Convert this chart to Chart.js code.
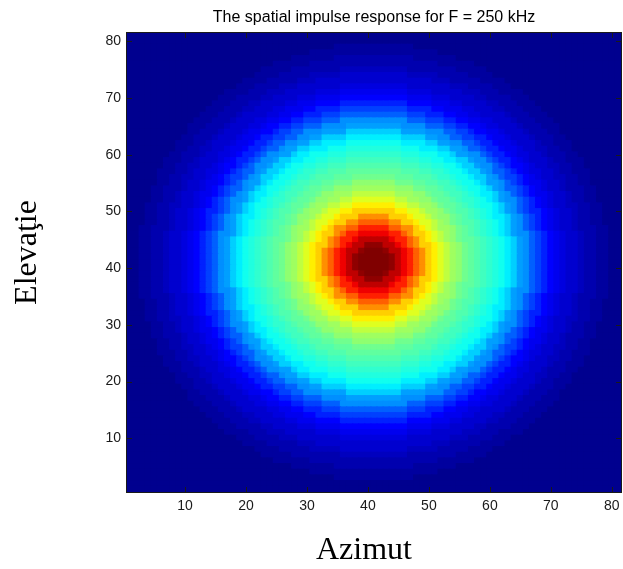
<!DOCTYPE html>
<html>
<head>
<meta charset="utf-8">
<title>Spatial impulse response</title>
<script src="https://cdn.jsdelivr.net/npm/chart.js@4/dist/chart.umd.min.js"></script>
<style>
  html, body { margin: 0; padding: 0; background: #fff; }
  canvas { display: block; }
</style>
</head>
<body>
<canvas id="impulse-map" width="623" height="569"></canvas>
<script>
"use strict";

// grid indices (81 x 81 cells, MATLAB style 1..81)
var gridSize = 81;
var centre = 41;

// normalised response read along the axes, by cell distance from the centre
var radialProfile = [
  1.00, 1.00, 0.99, 0.98, 0.93, 0.88, 0.83, 0.77, 0.72, 0.67,
  0.63, 0.59, 0.56, 0.53, 0.50, 0.48, 0.46, 0.45, 0.43, 0.42,
  0.40, 0.38, 0.35, 0.32, 0.28, 0.25, 0.21, 0.18, 0.15, 0.12,
  0.10, 0.085, 0.075, 0.065, 0.055, 0.045, 0.035, 0.03, 0.02, 0.015,
  0.01, 0.01, 0.005, 0.005, 0.00, 0.00, 0.00, 0.00, 0.00, 0.00,
  0.00, 0.00, 0.00, 0.00, 0.00, 0.00, 0.00, 0.00
];

var xTickLabels = [10, 20, 30, 40, 50, 60, 70, 80];
var yTickLabels = [10, 20, 30, 40, 50, 60, 70, 80];

var titleText = 'The spatial impulse response for F = 250 kHz';
var xCaption = 'Azimut';
var yCaption = 'Elevaţie';

var azimut = [];
var elevatie = [];
for (var i = 1; i <= gridSize; i++) {
    azimut.push(i);
    elevatie.push(i);
}

function cellValue (col, row) {
    var d = Math.round(Math.sqrt((col - centre) * (col - centre) + (row - centre) * (row - centre)));
    return radialProfile[Math.min(d, radialProfile.length - 1)];
}

// MATLAB jet(64)
function jetPart (k) {
    if (k < 1 || k > 47) return 0;
    if (k <= 16) return k / 16;
    if (k <= 31) return 1;
    return (48 - k) / 16;
}

function jetColour (v) {
    var idx = Math.floor(v * 64) + 1;
    if (idx > 64) idx = 64;
    if (idx < 1) idx = 1;
    var r = idx >= 25 ? jetPart(idx - 24) : 0;
    var g = (idx >= 9 && idx <= 55) ? jetPart(idx - 8) : 0;
    var b = idx <= 39 ? jetPart(idx + 8) : 0;
    return 'rgb(' + Math.round(r * 255) + ',' + Math.round(g * 255) + ',' + Math.round(b * 255) + ')';
}

var datasets = elevatie.map(function (row) {
    return {
        label: 'row ' + row,
        data: azimut.map(function () { return [row - 0.5, row + 0.5]; }),
        backgroundColor: azimut.map(function (col) { return jetColour(cellValue(col, row)); }),
        borderWidth: 0,
        borderSkipped: false,
        inflateAmount: 0.6,
        barPercentage: 1,
        categoryPercentage: 1,
        grouped: false
    };
});

var axisColour = '#1a1a1a';
var tickFont = { family: 'Arial, "Liberation Sans", sans-serif', size: 14 };

// box round the plot and inward ticks on all four sides
var boxPlugin = {
    id: 'matlabBox',
    afterDraw: function (chart) {
        var ctx = chart.ctx;
        var a = chart.chartArea;
        var xs = chart.scales.x;
        var ys = chart.scales.y;
        var tick = 5;
        ctx.save();
        ctx.strokeStyle = axisColour;
        ctx.lineWidth = 1;
        ctx.beginPath();
        xs.ticks.forEach(function (t) {
            var px = Math.round(xs.getPixelForValue(t.value)) + 0.5;
            ctx.moveTo(px, a.bottom);
            ctx.lineTo(px, a.bottom - tick);
            ctx.moveTo(px, a.top);
            ctx.lineTo(px, a.top + tick);
        });
        ys.ticks.forEach(function (t) {
            var py = Math.round(ys.getPixelForValue(t.value)) + 0.5;
            ctx.moveTo(a.left, py);
            ctx.lineTo(a.left + tick, py);
            ctx.moveTo(a.right, py);
            ctx.lineTo(a.right - tick, py);
        });
        ctx.stroke();
        ctx.strokeRect(Math.round(a.left) - 0.5, Math.round(a.top) - 0.5,
            Math.round(a.right - a.left) + 1, Math.round(a.bottom - a.top) + 1);
        ctx.restore();
    }
};

// the two big serif captions, placed as in the figure
var captionPlugin = {
    id: 'captions',
    afterDraw: function (chart) {
        var ctx = chart.ctx;
        var a = chart.chartArea;
        ctx.save();
        ctx.fillStyle = '#000';
        ctx.font = '32px "Liberation Serif", "Times New Roman", serif';
        ctx.textAlign = 'center';
        ctx.textBaseline = 'alphabetic';
        ctx.fillText(xCaption, (a.left + a.right) / 2 - 10, 559);
        ctx.translate(36, (a.top + a.bottom) / 2 - 10);
        ctx.rotate(-Math.PI / 2);
        ctx.fillText(yCaption, 0, 0);
        ctx.restore();
    }
};

var ctx = document.getElementById('impulse-map');

var impulseChart = new Chart(ctx, {
    type: 'bar',
    data: {
        labels: azimut.map(String),
        datasets: datasets
    },
    options: {
        responsive: false,
        animation: false,
        events: [],
        layout: {
            padding: { top: 0, right: 2, bottom: 0, left: 0 }
        },
        plugins: {
            legend: { display: false },
            tooltip: { enabled: false },
            title: {
                display: true,
                fullSize: false,
                text: titleText,
                color: '#000',
                font: { family: 'Arial, "Liberation Sans", sans-serif', size: 16, weight: 'normal', lineHeight: 1.2 },
                padding: { top: 7.5, bottom: 6.3 }
            }
        },
        scales: {
            x: {
                type: 'category',
                offset: true,
                grid: { display: false, drawTicks: false },
                border: { display: false },
                ticks: {
                    autoSkip: false,
                    maxRotation: 0,
                    padding: 6,
                    color: axisColour,
                    font: tickFont
                },
                afterBuildTicks: function (axis) {
                    axis.ticks = axis.ticks.filter(function (t) {
                        return xTickLabels.indexOf(azimut[t.value]) >= 0;
                    });
                },
                afterFit: function (axis) {
                    axis.height = 77;
                    axis.paddingLeft = 0;
                    axis.paddingRight = 0;
                }
            },
            y: {
                type: 'linear',
                min: 0.5,
                max: gridSize + 0.5,
                grid: { display: false, drawTicks: false },
                border: { display: false },
                ticks: {
                    padding: 6,
                    color: axisColour,
                    font: tickFont
                },
                afterBuildTicks: function (axis) {
                    axis.ticks = yTickLabels.map(function (v) { return { value: v }; });
                },
                afterFit: function (axis) {
                    axis.width = 127;
                    axis.paddingTop = 0;
                    axis.paddingBottom = 0;
                }
            }
        }
    },
    plugins: [boxPlugin, captionPlugin]
});
</script>
</body>
</html>
